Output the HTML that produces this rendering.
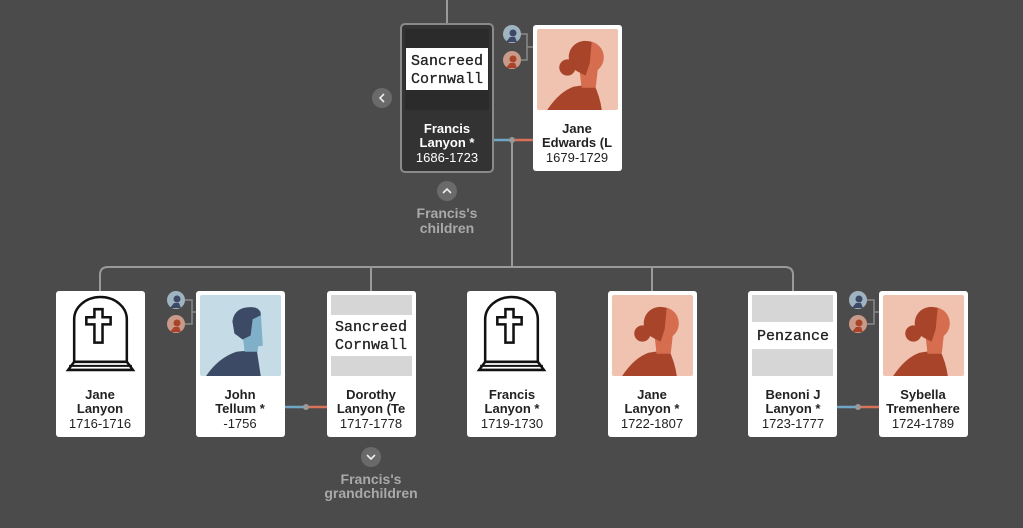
<!DOCTYPE html>
<html><head><meta charset="utf-8"><style>
html,body{margin:0;padding:0;background:#4b4b4b;}
svg{display:block;}
text{font-family:"Liberation Sans",sans-serif;}
.n{font-weight:bold;font-size:13px;fill:#222;text-anchor:middle;}
.d{font-size:13px;fill:#222;text-anchor:middle;}
.pl{font-family:"Liberation Mono",monospace;font-size:15px;fill:#222;text-anchor:middle;stroke:#222;stroke-width:0.3;}
.lab{font-weight:bold;font-size:14px;fill:#a9a9a9;text-anchor:middle;}
</style></head><body>
<svg width="1023" height="528" viewBox="0 0 1023 528" xmlns="http://www.w3.org/2000/svg">
<defs>
<symbol id="woman" viewBox="0 0 80 80">
<rect width="80" height="80" rx="2" fill="#efc3b0"/>
<path d="M10 80 Q22 62 36 57 L56 54 Q62 66 64 80Z" fill="#a8442a"/>
<path d="M42 40 L60 40 L58 58 L44 58Z" fill="#d66d4f"/>
<circle cx="50" cy="28" r="16" fill="#d66d4f"/>
<path d="M50 12 A16 16 0 0 0 40 42 L48 46 L52 34 L54 13Z" fill="#a8442a"/>
<circle cx="30" cy="38" r="8" fill="#a8442a"/>
</symbol>
<symbol id="man" viewBox="0 0 80 80">
<rect width="80" height="80" rx="2" fill="#c5dce6"/>
<path d="M6 80 Q18 62 36 56 L56 54 L60 80Z" fill="#3c4a66"/>
<path d="M42 38 L58 38 L57 56 L44 56Z" fill="#7fb0c8"/>
<path d="M44 16 L60 16 L62 50 L50 52 L44 38Z" fill="#7fb0c8"/>
<path d="M32 26 Q34 12 50 12 Q60 12 60 20 L52 24 L50 40 L42 44 L34 38Z" fill="#3c4a66"/>
</symbol>
<symbol id="grave" viewBox="0 0 80 80">
<rect width="80" height="80" fill="#fff"/>
<path d="M14 66 L14 24 A26 22 0 0 1 66 24 L66 66" fill="none" stroke="#111" stroke-width="2.5"/>
<path d="M34 14 h8 v8 h8 v7 h-8 v18 h-8 v-18 h-8 v-7 h8z" fill="none" stroke="#111" stroke-width="2.5"/>
<path d="M14 66 L8 74 L72 74 L66 66Z" fill="none" stroke="#111" stroke-width="2.5"/>
<line x1="9" y1="70" x2="71" y2="70" stroke="#111" stroke-width="2"/>
</symbol>
<symbol id="pm" viewBox="0 0 18 18"><circle cx="9" cy="9" r="9" fill="#9fb4c0"/><path d="M3 17 L7 12 L12 12 L14 17Z" fill="#3c4a66"/><circle cx="10" cy="8" r="3.5" fill="#3c4a66"/></symbol>
<symbol id="pf" viewBox="0 0 18 18"><circle cx="9" cy="9" r="9" fill="#c99a88"/><path d="M3 17 L7 12 L12 12 L14 17Z" fill="#a8442a"/><circle cx="10" cy="8" r="3.5" fill="#a8442a"/></symbol>
</defs>

<g stroke="#9a9a9a" stroke-width="2" fill="none">
<line x1="447" y1="0" x2="447" y2="24"/>
<line x1="512" y1="140" x2="512" y2="267"/>
<path d="M100 291 V275 Q100 267 108 267 H785 Q793 267 793 275 V291"/>
<line x1="371" y1="267" x2="371" y2="291"/>
<line x1="652" y1="267" x2="652" y2="291"/>
</g>
<g stroke-width="2.5">
<line x1="493" y1="140" x2="512" y2="140" stroke="#6fa6c4"/><line x1="512" y1="140" x2="533" y2="140" stroke="#d8735a"/>
<line x1="285" y1="407" x2="306" y2="407" stroke="#6fa6c4"/><line x1="306" y1="407" x2="327" y2="407" stroke="#d8735a"/>
<line x1="837" y1="407" x2="858" y2="407" stroke="#6fa6c4"/><line x1="858" y1="407" x2="879" y2="407" stroke="#d8735a"/>
</g>
<circle cx="512" cy="140" r="3" fill="#999"/><circle cx="306" cy="407" r="3" fill="#999"/><circle cx="858" cy="407" r="3" fill="#999"/>

<g stroke="#8a8a8a" stroke-width="1.5" fill="none">
<path d="M520 34 H527 V60 H520 M527 47 H533"/>
<path d="M184 300 H192 V324 H184 M192 312 H196"/>
<path d="M866 300 H874 V324 H866 M874 312 H879"/>
</g>
<use href="#pm" x="503" y="25" width="18" height="18"/><use href="#pf" x="503" y="51" width="18" height="18"/>
<use href="#pm" x="167" y="291" width="18" height="18"/><use href="#pf" x="167" y="315" width="18" height="18"/>
<use href="#pm" x="849" y="291" width="18" height="18"/><use href="#pf" x="849" y="315" width="18" height="18"/>

<rect x="401" y="24" width="92" height="148" rx="4" fill="#333" stroke="#8a8a8a" stroke-width="2"/>
<rect x="405" y="29" width="84" height="81" fill="#2b2b2b"/>
<rect x="406" y="48" width="82" height="42" fill="#fff"/>
<text class="pl" x="447" y="65">Sancreed</text><text class="pl" x="447" y="83">Cornwall</text>
<text class="n" x="447" y="133" style="fill:#fff">Francis</text>
<text class="n" x="447" y="147" style="fill:#fff">Lanyon *</text>
<text class="d" x="447" y="162" style="fill:#fff">1686-1723</text>

<rect x="533" y="25" width="89" height="146" rx="3" fill="#fff"/>
<use href="#woman" x="537" y="29" width="81" height="81"/>
<text class="n" x="577" y="133">Jane</text><text class="n" x="577" y="147">Edwards (L</text><text class="d" x="577" y="162">1679-1729</text>

<g>
<rect x="56" y="291" width="89" height="146" rx="3" fill="#fff"/>
<use href="#grave" x="60" y="295" width="81" height="81"/>
<text class="n" x="100" y="399">Jane</text><text class="n" x="100" y="413">Lanyon</text><text class="d" x="100" y="428">1716-1716</text>

<rect x="196" y="291" width="89" height="146" rx="3" fill="#fff"/>
<use href="#man" x="200" y="295" width="81" height="81"/>
<text class="n" x="240" y="399">John</text><text class="n" x="240" y="413">Tellum *</text><text class="d" x="240" y="428">-1756</text>

<rect x="327" y="291" width="89" height="146" rx="3" fill="#fff"/>
<rect x="331" y="295" width="81" height="20" fill="#d6d6d6"/><rect x="331" y="356" width="81" height="20" fill="#d6d6d6"/>
<text class="pl" x="371" y="331">Sancreed</text><text class="pl" x="371" y="349">Cornwall</text>
<text class="n" x="371" y="399">Dorothy</text><text class="n" x="371" y="413">Lanyon (Te</text><text class="d" x="371" y="428">1717-1778</text>

<rect x="467" y="291" width="89" height="146" rx="3" fill="#fff"/>
<use href="#grave" x="471" y="295" width="81" height="81"/>
<text class="n" x="512" y="399">Francis</text><text class="n" x="512" y="413">Lanyon *</text><text class="d" x="512" y="428">1719-1730</text>

<rect x="608" y="291" width="89" height="146" rx="3" fill="#fff"/>
<use href="#woman" x="612" y="295" width="81" height="81"/>
<text class="n" x="652" y="399">Jane</text><text class="n" x="652" y="413">Lanyon *</text><text class="d" x="652" y="428">1722-1807</text>

<rect x="748" y="291" width="89" height="146" rx="3" fill="#fff"/>
<rect x="752" y="295" width="81" height="27" fill="#d6d6d6"/><rect x="752" y="349" width="81" height="27" fill="#d6d6d6"/>
<text class="pl" x="793" y="340">Penzance</text>
<text class="n" x="793" y="399">Benoni J</text><text class="n" x="793" y="413">Lanyon *</text><text class="d" x="793" y="428">1723-1777</text>

<rect x="879" y="291" width="89" height="146" rx="3" fill="#fff"/>
<use href="#woman" x="883" y="295" width="81" height="81"/>
<text class="n" x="923" y="399">Sybella</text><text class="n" x="923" y="413">Tremenhere</text><text class="d" x="923" y="428">1724-1789</text>
</g>

<circle cx="382" cy="98" r="10" fill="#6a6a6a"/><path d="M384 94 L380 98 L384 102" stroke="#eee" stroke-width="1.6" fill="none"/>
<circle cx="447" cy="191" r="10" fill="#6a6a6a"/><path d="M443 193 L447 189 L451 193" stroke="#eee" stroke-width="1.6" fill="none"/>
<circle cx="371" cy="457" r="10" fill="#6a6a6a"/><path d="M367 455 L371 459 L375 455" stroke="#eee" stroke-width="1.6" fill="none"/>
<text class="lab" x="447" y="218">Francis's</text><text class="lab" x="447" y="233">children</text>
<text class="lab" x="371" y="484">Francis's</text><text class="lab" x="371" y="498">grandchildren</text>
</svg>
</body></html>
